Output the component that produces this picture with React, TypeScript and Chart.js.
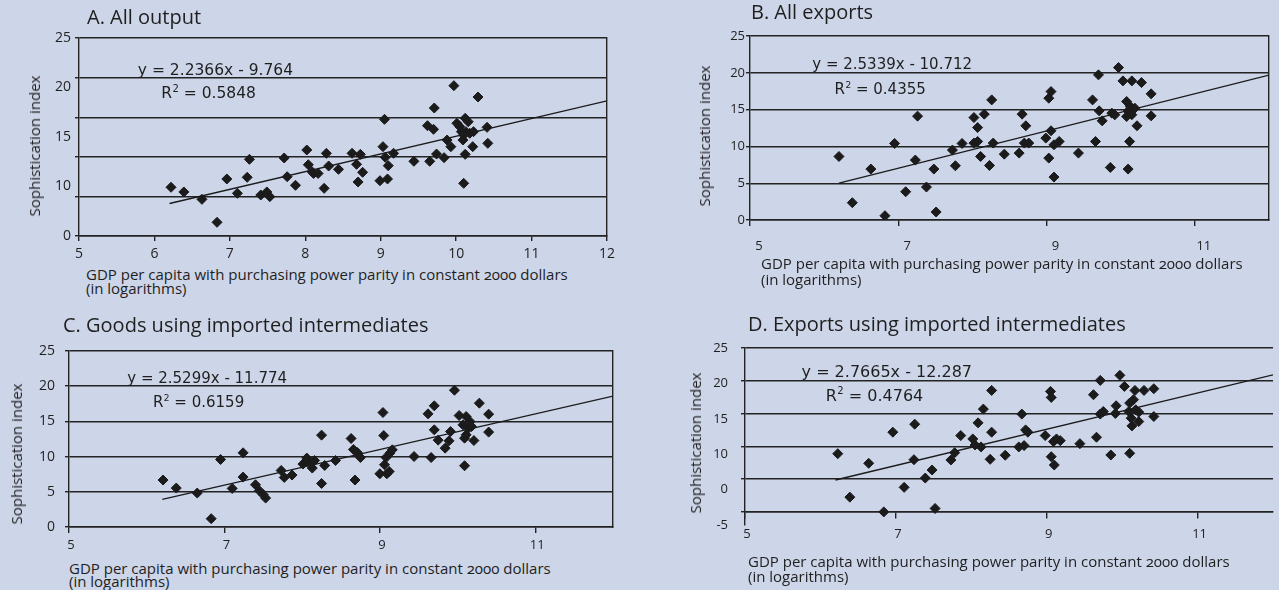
import React, { useEffect, useRef } from "react";
import { Chart, registerables } from "chart.js";

Chart.register(...registerables);

// ---------------- data ----------------
const xTicksA = [5, 6, 7, 8, 9, 10, 11, 12];
const xTicksBCD = [5, 7, 9, 11];
const yGridValues = [0, 5, 10, 15, 20, 25];
const yLabelsA = ["25", "20", "15", "10", "0"];
const yLabelsB = ["25", "20", "15", "10", "5", "0"];
const yLabelsC = ["25", "20", "15", "10", "5", "0"];
const yLabelsD = ["25", "20", "15", "10", "0", "-5"];

// A. All output
const aX = [6.22, 6.39, 6.63, 6.83, 6.96, 7.1, 7.23, 7.26, 7.41, 7.49, 7.53, 7.72, 7.76, 7.87, 8.02, 8.04, 8.09, 8.11, 8.17, 8.25, 8.28, 8.31, 8.44, 8.62, 8.68, 8.7, 8.73, 8.76, 8.99, 9.03, 9.05, 9.06, 9.09, 9.1, 9.17, 9.44, 9.62, 9.65, 9.7, 9.71, 9.74, 9.84, 9.88, 9.93, 9.97, 10.01, 10.05, 10.09, 10.1, 10.12, 10.12, 10.13, 10.16, 10.18, 10.22, 10.23, 10.29, 10.41, 10.42, 10.07, 10.1];
const aY = [6.15, 5.56, 4.63, 1.73, 7.2, 5.39, 7.41, 9.68, 5.18, 5.56, 4.97, 9.85, 7.49, 6.4, 10.86, 9.0, 8.12, 7.9, 7.9, 6.02, 10.44, 8.84, 8.42, 10.44, 9.05, 6.82, 10.31, 8.04, 6.98, 11.28, 14.73, 9.93, 7.2, 8.88, 10.44, 9.43, 13.93, 9.43, 13.47, 16.16, 10.35, 9.89, 12.12, 11.28, 18.98, 14.23, 13.8, 12.12, 6.65, 14.86, 10.31, 13.17, 14.43, 12.97, 11.28, 13.17, 17.55, 13.72, 11.7, 13.17, 12.75];
const trendAX = [6.2, 12];
const trendAY = [4.103, 17.075];

// B. All exports
const bX = [6.2, 6.38, 6.63, 6.82, 6.95, 7.1, 7.23, 7.26, 7.38, 7.48, 7.51, 7.73, 7.77, 7.86, 8.02, 8.02, 8.07, 8.07, 8.11, 8.16, 8.23, 8.26, 8.28, 8.43, 8.63, 8.67, 8.72, 8.7, 8.76, 8.99, 9.03, 9.03, 9.06, 9.06, 9.1, 9.1, 9.17, 9.43, 9.62, 9.66, 9.7, 9.71, 9.75, 9.86, 9.88, 9.92, 9.97, 10.03, 10.08, 10.08, 10.1, 10.12, 10.13, 10.15, 10.16, 10.19, 10.22, 10.28, 10.41, 10.41, 10.1, 10.15];
const bY = [8.63, 2.35, 6.92, 0.58, 10.4, 3.84, 8.14, 14.11, 4.48, 6.92, 1.09, 9.5, 7.37, 10.4, 13.92, 10.45, 12.56, 10.67, 8.63, 14.38, 7.41, 16.32, 10.45, 8.95, 9.09, 14.38, 12.8, 10.45, 10.45, 11.13, 8.41, 16.55, 17.45, 12.12, 5.83, 10.22, 10.67, 9.09, 16.32, 10.67, 19.72, 14.83, 13.47, 7.14, 14.52, 14.29, 20.71, 18.9, 16.1, 14.06, 6.92, 10.67, 15.41, 18.9, 14.97, 15.2, 12.8, 18.67, 17.14, 14.15, 14.8, 14.3];
const trendBX = [6.2, 12];
const trendBY = [4.998, 19.695];

// C. Goods using imported intermediates
const cX = [6.21, 6.38, 6.65, 6.83, 6.95, 7.1, 7.24, 7.24, 7.4, 7.45, 7.5, 7.53, 7.73, 7.77, 7.87, 8.01, 8.06, 8.08, 8.12, 8.13, 8.16, 8.25, 8.25, 8.29, 8.43, 8.63, 8.66, 8.68, 8.71, 8.75, 9.0, 9.04, 9.05, 9.06, 9.08, 9.09, 9.12, 9.13, 9.16, 9.44, 9.62, 9.66, 9.7, 9.7, 9.75, 9.84, 9.89, 9.91, 9.96, 10.02, 10.07, 10.09, 10.09, 10.11, 10.14, 10.16, 10.18, 10.21, 10.28, 10.4, 10.4, 10.11];
const cY = [6.67, 5.53, 4.82, 1.18, 9.59, 5.48, 10.54, 7.09, 6.0, 5.15, 4.58, 4.11, 8.03, 7.04, 7.38, 8.94, 9.79, 9.3, 9.08, 8.37, 9.45, 13.05, 6.18, 8.74, 9.45, 12.57, 11.01, 6.67, 10.58, 9.87, 7.56, 16.26, 12.99, 8.84, 9.87, 7.56, 7.89, 10.5, 10.96, 10.01, 16.07, 9.87, 17.21, 13.8, 12.34, 11.2, 12.24, 13.56, 19.43, 15.83, 14.51, 8.7, 12.62, 15.69, 14.04, 14.98, 14.27, 12.28, 17.59, 16.03, 13.48, 13.09];
const trendCX = [6.2, 12];
const trendCY = [3.911, 18.585];

// D. Exports using imported intermediates
const dX = [6.23, 6.39, 6.64, 6.84, 6.96, 7.11, 7.24, 7.25, 7.39, 7.48, 7.52, 7.73, 7.78, 7.86, 8.02, 8.05, 8.09, 8.13, 8.16, 8.25, 8.27, 8.27, 8.45, 8.63, 8.67, 8.7, 8.72, 8.75, 8.98, 9.05, 9.06, 9.06, 9.09, 9.1, 9.13, 9.18, 9.44, 9.62, 9.66, 9.71, 9.71, 9.75, 9.85, 9.91, 9.92, 9.97, 10.03, 10.09, 10.1, 10.1, 10.12, 10.13, 10.15, 10.17, 10.18, 10.22, 10.22, 10.29, 10.42, 10.42];
const dY = [8.88, 2.25, 7.41, 0.0, 12.16, 3.74, 7.96, 13.38, 5.16, 6.39, 0.52, 7.92, 9.04, 11.64, 11.13, 10.21, 13.58, 9.91, 15.68, 8.02, 18.53, 12.16, 8.64, 9.91, 14.92, 10.11, 12.51, 12.16, 11.64, 18.38, 17.46, 8.42, 10.72, 7.15, 11.13, 10.87, 10.41, 17.87, 11.39, 20.06, 14.92, 15.31, 8.68, 15.01, 16.19, 20.83, 19.14, 15.31, 8.94, 16.6, 14.3, 13.12, 17.11, 18.53, 15.57, 13.78, 15.22, 18.53, 18.79, 14.55];
const trendDX = [6.2, 12];
const trendDY = [4.865, 20.911];

const titles = [
  "A. All output",
  "B. All exports",
  "C.  Goods using imported intermediates",
  "D.  Exports using imported intermediates",
];
const equations = ["y = 2.2366x - 9.764", "y = 2.5339x - 10.712", "y = 2.5299x - 11.774", "y = 2.7665x - 12.287"];
const rSquared = ["0.5848", "0.4355", "0.6159", "0.4764"];
const yTitle = "Sophistication index";
const xTitleLines = ["GDP per capita with purchasing power parity in constant 2000 dollars", "(in logarithms)"];

// ---------------- styles ----------------
const BG = "#cdd5e8";
const INK = "#232323";
const TEXT = "#1f1f1f";
const FONT = '"Open Sans", "Noto Sans", sans-serif';

type Box = { x: number; y: number; w: number; h: number };
type Area = { l: number; t: number; r: number; b: number };
type PanelCfg = {
  box: Box;
  area: Area;
  xs: number[];
  ys: number[];
  tx: number[];
  ty: number[];
  xTicks: number[];
  yLabels: string[];
  yMin: number;
  yLabPad: number;
  yFont: number;
  xFont: number;
  xPad: number;
  xLabelOffset: number;
  tickLen: number;
  xFloat: boolean;
  rightBorder: boolean;
  eq: string;
  r2: string;
  eqAt: [number, number];
  r2At: [number, number];
  eqSize: number;
  title: string;
  titlePos: [number, number];
  yTitlePos: [number, number];
  xTitlePos: [number, number];
  xTitleLH: number;
};

const panels: PanelCfg[] = [
  {
    box: { x: 0, y: 0, w: 640, h: 262 },
    area: { l: 79, t: 38, r: 607, b: 236 },
    xs: aX, ys: aY, tx: trendAX, ty: trendAY,
    xTicks: xTicksA, yLabels: yLabelsA, yMin: 0,
    yLabPad: 8, yFont: 14, xFont: 14, xPad: 5, xLabelOffset: 0, tickLen: 5,
    xFloat: false, rightBorder: true,
    eq: equations[0], r2: rSquared[0], eqAt: [5.78, 20.33], r2At: [6.09, 17.4], eqSize: 15.5,
    title: titles[0], titlePos: [87, 6], yTitlePos: [34, 146], xTitlePos: [86, 267], xTitleLH: 14,
  },
  {
    box: { x: 690, y: 0, w: 589, h: 262 },
    area: { l: 60, t: 36, r: 579, b: 220 },
    xs: bX, ys: bY, tx: trendBX, ty: trendBY,
    xTicks: xTicksBCD, yLabels: yLabelsB, yMin: 0,
    yLabPad: 5, yFont: 13, xFont: 13, xPad: 12, xLabelOffset: 9, tickLen: 6,
    xFloat: false, rightBorder: true,
    eq: equations[1], r2: rSquared[1], eqAt: [5.84, 20.53], r2At: [6.14, 17.14], eqSize: 15,
    title: titles[1], titlePos: [751, 1], yTitlePos: [704, 136], xTitlePos: [761, 255], xTitleLH: 16,
  },
  {
    box: { x: 0, y: 295, w: 640, h: 260 },
    area: { l: 69, t: 56, r: 613, b: 232 },
    xs: cX, ys: cY, tx: trendCX, ty: trendCY,
    xTicks: xTicksBCD, yLabels: yLabelsC, yMin: 0,
    yLabPad: 14, yFont: 14, xFont: 13, xPad: 4, xLabelOffset: 2, tickLen: 6,
    xFloat: false, rightBorder: true,
    eq: equations[2], r2: rSquared[2], eqAt: [5.75, 20.47], r2At: [6.08, 17.06], eqSize: 15,
    title: titles[2], titlePos: [63, 314], yTitlePos: [16, 454], xTitlePos: [69, 562], xTitleLH: 13,
  },
  {
    box: { x: 690, y: 295, w: 589, h: 295 },
    area: { l: 55, t: 53, r: 589, b: 230 },
    xs: dX, ys: dY, tx: trendDX, ty: trendDY,
    xTicks: xTicksBCD, yLabels: yLabelsD, yMin: -2,
    yLabPad: 17, yFont: 13, xFont: 13, xPad: 9, xLabelOffset: 2, tickLen: 6,
    xFloat: true, rightBorder: false,
    eq: equations[3], r2: rSquared[3], eqAt: [5.75, 20.63], r2At: [6.07, 16.95], eqSize: 16,
    title: titles[3], titlePos: [748, 313], yTitlePos: [695, 443], xTitlePos: [748, 554], xTitleLH: 15,
  },
];

const eqPlugin = {
  id: "eq",
  afterDatasetsDraw(chart: any, _args: any, o: any) {
    const { ctx, scales } = chart;
    const sx = scales.x;
    const sy = scales.y;
    const f = `${o.size}px "DejaVu Sans"`;
    ctx.save();
    ctx.fillStyle = TEXT;
    ctx.textAlign = "left";
    ctx.textBaseline = "alphabetic";
    ctx.font = f;
    ctx.fillText(o.eq, sx.getPixelForValue(o.eqAt[0]), sy.getPixelForValue(o.eqAt[1]));
    let x = sx.getPixelForValue(o.r2At[0]);
    const y = sy.getPixelForValue(o.r2At[1]);
    ctx.fillText("R", x, y);
    x += ctx.measureText("R").width;
    ctx.font = `${Math.round(o.size * 0.62)}px "DejaVu Sans"`;
    ctx.fillText("2", x + 0.5, y - o.size * 0.42);
    x += ctx.measureText("2").width + 0.5;
    ctx.font = f;
    ctx.fillText(" = " + o.r2, x, y);
    ctx.restore();
  },
};

function buildConfig(c: PanelCfg): any {
  const area = c.area;
  const pts = c.xs.map((x, i) => ({ x, y: c.ys[i] }));
  const trend = c.tx.map((x, i) => ({ x, y: c.ty[i] }));
  const scales: any = {
    yLab: {
      type: "category",
      position: "left",
      weight: 1,
      labels: c.yLabels,
      min: 0,
      max: c.yLabels.length - 1,
      offset: false,
      grid: { display: false, drawTicks: false },
      border: { display: false },
      ticks: { autoSkip: false, padding: c.yLabPad, color: TEXT, font: { family: FONT, size: c.yFont } },
      afterFit: (s: any) => {
        s.width = area.l;
      },
    },
    y: {
      type: "linear",
      position: "left",
      weight: 0,
      min: c.yMin,
      max: 25,
      afterBuildTicks: (s: any) => {
        s.ticks = yGridValues.map((v) => ({ value: v }));
      },
      ticks: { display: false },
      grid: { color: INK, lineWidth: 1.4, drawTicks: true, tickLength: 4 },
      border: { display: true, color: INK, width: 1.4 },
      afterFit: (s: any) => {
        s.width = 0;
      },
    },
    x: {
      type: "linear",
      position: c.xFloat ? { y: 0 } : "bottom",
      min: 5,
      max: 12,
      afterBuildTicks: (s: any) => {
        s.ticks = c.xTicks.map((v) => ({ value: v }));
      },
      grid: { drawOnChartArea: false, drawTicks: true, tickLength: c.tickLen, color: INK, lineWidth: 1.4 },
      border: { display: true, color: INK, width: 1.4 },
      ticks: {
        autoSkip: false,
        maxRotation: 0,
        padding: c.xPad,
        labelOffset: c.xLabelOffset,
        color: TEXT,
        font: { family: FONT, size: c.xFont },
      },
      afterFit: (s: any) => {
        if (!c.xFloat) s.height = c.box.h - area.b;
      },
    },
  };
  if (c.rightBorder) {
    scales.yR = {
      type: "linear",
      position: "right",
      ticks: { display: false },
      grid: { display: false, drawTicks: false },
      border: { display: true, color: INK, width: 1.4 },
      afterFit: (s: any) => {
        s.width = 0;
      },
    };
  }
  return {
    type: "scatter",
    data: {
      datasets: [
        {
          data: pts,
          xAxisID: "x",
          yAxisID: "y",
          pointStyle: "rectRot",
          pointRadius: 5,
          pointHoverRadius: 5,
          borderWidth: 1,
          backgroundColor: "#1b1b1b",
          borderColor: "#1b1b1b",
          showLine: false,
        },
        {
          data: trend,
          xAxisID: "x",
          yAxisID: "y",
          showLine: true,
          pointRadius: 0,
          borderColor: "#1b1b1b",
          borderWidth: 1.3,
          fill: false,
        },
      ],
    },
    options: {
      animation: false,
      responsive: false,
      maintainAspectRatio: false,
      devicePixelRatio: 1,
      events: [],
      layout: {
        padding: {
          left: 0,
          top: area.t,
          right: c.box.w - area.r,
          bottom: c.xFloat ? c.box.h - area.b : 0,
        },
      },
      plugins: {
        legend: { display: false },
        tooltip: { enabled: false },
        title: { display: false },
        eq: { eq: c.eq, r2: c.r2, eqAt: c.eqAt, r2At: c.r2At, size: c.eqSize },
      },
      scales,
    },
    plugins: [eqPlugin],
  };
}

function Panel({ cfg }: { cfg: PanelCfg }) {
  const ref = useRef<HTMLCanvasElement>(null);
  useEffect(() => {
    const canvas = ref.current;
    if (!canvas) return;
    const chart = new Chart(canvas, buildConfig(cfg));
    return () => chart.destroy();
  }, [cfg]);
  const textBase: React.CSSProperties = {
    position: "absolute",
    color: TEXT,
    fontFamily: FONT,
    whiteSpace: "nowrap",
    fontVariantNumeric: "oldstyle-nums",
  };
  return (
    <>
      <canvas
        ref={ref}
        width={cfg.box.w}
        height={cfg.box.h}
        style={{ position: "absolute", left: cfg.box.x, top: cfg.box.y, width: cfg.box.w, height: cfg.box.h }}
      />
      <div style={{ ...textBase, left: cfg.titlePos[0], top: cfg.titlePos[1], fontSize: 20, lineHeight: "22px" }}>
        {cfg.title}
      </div>
      <div
        style={{
          ...textBase,
          left: cfg.yTitlePos[0],
          top: cfg.yTitlePos[1],
          fontSize: 15,
          lineHeight: "18px",
          transform: "translate(-50%, -50%) rotate(-90deg)",
        }}
      >
        {yTitle}
      </div>
      <div
        style={{
          ...textBase,
          left: cfg.xTitlePos[0],
          top: cfg.xTitlePos[1],
          fontSize: 15,
          lineHeight: `${cfg.xTitleLH}px`,
        }}
      >
        {xTitleLines.map((t, i) => (
          <div key={i}>{t}</div>
        ))}
      </div>
    </>
  );
}

export default function App() {
  return (
    <div
      style={{
        position: "fixed",
        left: 0,
        top: 0,
        width: 1279,
        height: 590,
        background: BG,
        overflow: "hidden",
      }}
    >
      {panels.map((p, i) => (
        <Panel key={i} cfg={p} />
      ))}
    </div>
  );
}
